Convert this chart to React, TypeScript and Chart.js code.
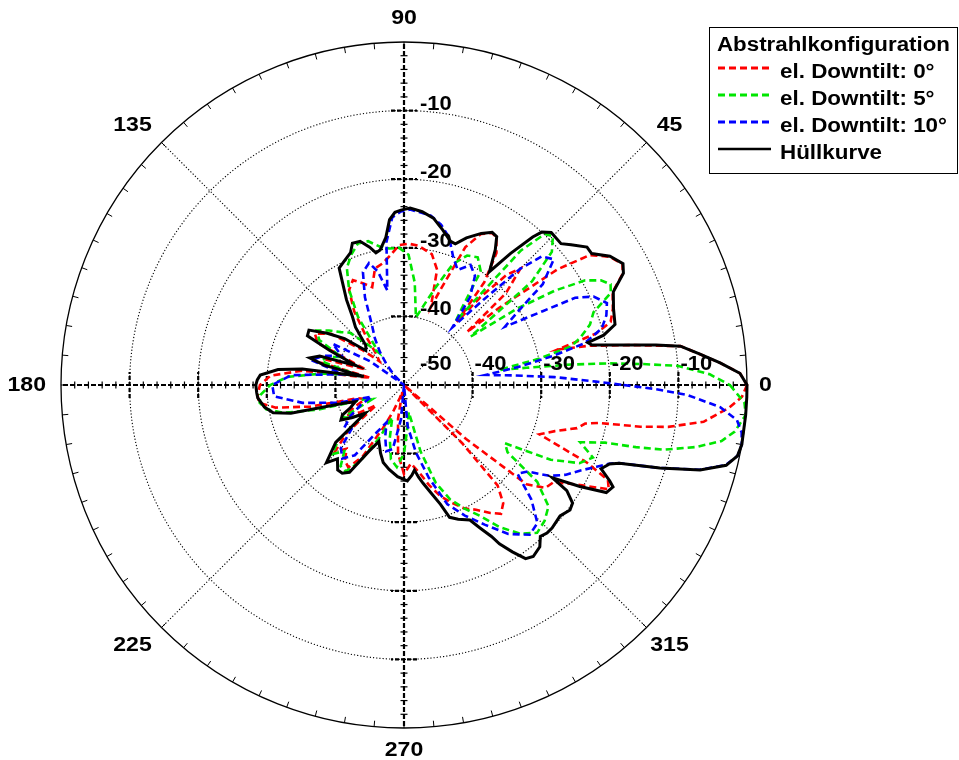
import React, { useEffect, useRef } from 'react';
import { Chart, registerables } from 'chart.js';

Chart.register(...registerables);

const LEGEND_TITLE = 'Abstrahlkonfiguration';
const SERIES_NAMES = ['el. Downtilt: 0°', 'el. Downtilt: 5°', 'el. Downtilt: 10°', 'Hüllkurve'];
const SERIES_COLORS = ['#ff0000', '#00e600', '#0000ff', '#000000'];
const ANGLE_TICKS = [0, 45, 90, 135, 180, 225, 270, 315];
const ANGLE_TICK_LABELS = ['0', '45', '90', '135', '180', '225', '270', '315'];
const RADIAL_TICKS = [-50, -40, -30, -20, -10];
const RADIAL_TICK_LABELS = ['-50', '-40', '-30', '-20', '-10'];

// Envelope (Hüllkurve): angle in degrees (counter-clockwise from 0), level in dB
const envAngles = [0, 2, 4, 6, 8, 9, 10, 11, 12, 13, 14, 16, 20, 24, 27, 29, 32, 35, 37, 40, 42, 46, 48, 49, 51, 53, 56, 58, 60, 63, 67, 70, 72, 76, 80, 84, 88, 91, 93, 95, 97, 100, 102, 104, 107, 110, 112, 116, 119, 121, 124, 127, 130, 134, 138, 142, 146, 150, 153, 155, 158, 161, 164, 166, 168, 171, 173, 176, 178, 180, 183, 185, 189, 192, 194, 197, 199, 203, 206, 209, 212, 216, 220, 225, 228, 232, 235, 238, 242, 246, 251, 255, 260, 266, 272, 275, 277, 279, 281, 284, 287, 289, 292, 296, 298, 300, 301, 303, 305, 307, 310, 312, 314, 316, 320, 323, 325, 327, 328, 330, 332, 334, 335, 337, 339, 340, 342, 344, 346, 348, 350, 355, 358];
const envValues = [0, -1, -3.8, -6.7, -9.3, -12.8, -16.5, -19.4, -22, -22.5, -20, -18, -17.5, -16.6, -14.1, -13.5, -14.6, -16.6, -16.6, -18.2, -19.2, -19.1, -20, -21.4, -25.3, -29.3, -26.2, -24.5, -24.3, -25.2, -26.7, -28.1, -28, -26.7, -25.3, -24.6, -24.2, -24.5, -24.8, -25.8, -28.3, -30, -30.3, -29.3, -28.1, -28, -29.2, -30, -30.5, -32.6, -35, -37.5, -39, -42, -42.5, -39, -36.5, -34, -34.2, -38, -42.5, -37, -35.7, -38, -44, -35, -31.5, -29, -28.6, -28.4, -28.5, -28.6, -29.4, -30.5, -33, -41, -42.5, -41.5, -40, -39.5, -41, -43, -37, -34, -35.5, -34.3, -34.3, -35, -39, -41, -39.5, -38.3, -37.5, -36.6, -36, -36.8, -37.5, -36.4, -35.4, -33.8, -31.8, -29.6, -28.9, -28.1, -26.4, -24.5, -23, -21, -19.1, -18.7, -19.2, -20.3, -20, -20, -20.3, -19.7, -20, -21.7, -24.5, -20.4, -16.6, -16.1, -16.9, -18.8, -17.9, -16.6, -10.8, -5.1, -1.6, -0.3, 0, 0, 0];

// el. Downtilt 0°
const redAngles = [0, 2, 4, 6, 8, 10, 12, 13, 15, 17, 20, 24, 27, 29, 32, 35, 37, 39, 40, 42, 45, 47, 49, 50, 52, 55, 58, 60, 63, 66, 69, 71, 74, 78, 84, 88, 92, 96, 100, 104, 108, 112, 116, 120, 124, 128, 132, 136, 140, 145, 150, 154, 158, 162, 165, 168, 172, 176, 180, 184, 187, 190, 193, 196, 200, 204, 208, 212, 216, 220, 224, 228, 232, 236, 240, 244, 248, 252, 256, 260, 265, 270, 275, 280, 284, 288, 292, 296, 300, 304, 307, 310, 313, 315, 316, 318, 319, 321, 324, 327, 330, 333, 335, 337, 340, 343, 346, 348, 349, 350, 351, 353, 356, 358];
const redValues = [0, -1, -3.8, -6.7, -9.3, -16.5, -22.5, -27, -21, -18.5, -17.6, -16.7, -14.2, -13.6, -14.7, -17, -22, -32, -38, -30, -26, -28, -33, -38, -31, -26.5, -24.6, -24.4, -25.3, -28, -35, -38, -32.5, -30.5, -29.6, -29.4, -29.6, -31, -32, -32.5, -35, -34, -33, -34, -37, -41, -44, -45, -42, -37, -35, -36, -44, -38, -37.5, -45, -35, -30.5, -29, -28.6, -28.7, -31, -36, -43, -44, -42, -40.5, -42.5, -45, -39, -36, -37.5, -36, -35.5, -38, -43, -46, -48, -49, -45, -40, -37, -38.5, -37, -35, -33, -31.5, -30, -29, -27.5, -26.5, -27.5, -30, -38, -50, -50, -38, -27, -24.5, -24, -21, -16.5, -17.2, -21, -29, -27, -24, -23, -21, -15, -11, -6, -2.5, -0.7];

// el. Downtilt 5°
const greenAngles = [0, 2, 4, 5, 6, 7, 8, 9, 11, 13, 15, 18, 21, 24, 26, 28, 30, 32, 34, 36, 39, 42, 45, 47, 49, 51, 53, 56, 60, 64, 68, 72, 76, 80, 84, 88, 92, 96, 100, 104, 108, 112, 116, 120, 124, 128, 132, 136, 140, 144, 148, 152, 156, 160, 164, 168, 172, 176, 180, 184, 187, 190, 193, 196, 200, 204, 208, 212, 216, 220, 224, 228, 232, 236, 240, 245, 250, 255, 260, 265, 270, 275, 280, 284, 288, 292, 296, 300, 304, 308, 312, 316, 320, 324, 327, 330, 333, 336, 339, 342, 344, 345, 346, 348, 350, 352, 355, 357];
const greenValues = [-2.5, -5.4, -10, -15, -19.8, -25.5, -32, -36, -30, -25, -23.4, -21.5, -20.4, -17, -16.5, -17.5, -19.5, -24, -30, -38, -26, -21, -19.3, -19.9, -24, -38, -36, -30, -28.5, -29, -31, -35, -38, -40, -35, -31, -30, -30, -29.5, -28.4, -28.3, -29.5, -31, -34, -38, -44, -42, -39, -38, -36.5, -35, -36, -40, -38, -37.5, -43, -38, -33, -30.5, -29, -28.8, -29.6, -32, -37, -44, -45, -40, -41, -43, -37.5, -35.5, -37, -35, -34.8, -37, -41.5, -45, -42, -39, -38, -40, -44, -46, -40, -35, -32, -30, -28, -25, -22.5, -21, -21.5, -22.5, -26, -32, -33, -26, -22, -20.5, -23, -19.5, -15, -11, -6.5, -3, -1.3, 0, -0.3];

// el. Downtilt 10°
const blueAngles = [0, 1, 3, 5, 7, 9, 11, 13, 16, 19, 22, 25, 27, 28, 30, 33, 36, 40, 43, 45, 47, 50, 53, 57, 61, 65, 69, 73, 77, 81, 85, 88, 91, 94, 97, 100, 103, 106, 110, 114, 118, 122, 126, 130, 135, 140, 145, 150, 155, 160, 165, 170, 175, 180, 185, 190, 195, 200, 205, 210, 215, 220, 225, 230, 235, 240, 245, 250, 255, 260, 265, 269, 272, 275, 280, 285, 290, 295, 300, 305, 310, 314, 318, 322, 325, 328, 331, 334, 337, 339, 340, 342, 344, 346, 348, 350, 352, 354, 356, 358, 359];
const blueValues = [-18, -22, -28, -34, -38, -33, -28, -23, -20, -18.8, -18.1, -19.5, -22, -27, -33, -30, -25, -21.5, -22.5, -26, -33, -39, -34, -31, -30, -31.5, -30, -27.5, -26, -25, -24.7, -24.4, -24.7, -25.5, -29, -36, -33, -31.5, -32.5, -36, -40, -42, -44, -46, -48, -50, -44, -38, -40, -37.5, -36, -41, -33.5, -30.8, -31, -35, -40, -45, -43, -41, -39.5, -40, -37, -36, -37.5, -42, -44, -42, -40, -40.5, -45, -50, -50, -44, -40, -36, -31.5, -29, -26.5, -23.5, -21.5, -22, -25, -29, -28, -25, -23, -21.5, -19.5, -18, -16.7, -10.9, -5.2, -1.7, -0.3, 0, -0.3, -1.2, -3.8, -8.7, -13];

const R_MIN = -50;
const R_MAX = 0;
const N_SLOTS = 360;

function slotOf(angle: number): number {
  return (N_SLOTS - Math.round(angle)) % N_SLOTS;
}

function buildSeries(angles: number[], values: number[]): (number | null)[] {
  const arr: (number | null)[] = new Array(N_SLOTS).fill(null);
  angles.forEach((a, i) => {
    arr[slotOf(a)] = Math.max(R_MIN, values[i]);
  });
  return arr;
}

const FONT_FAMILY = '"Liberation Sans", Arial, Helvetica, sans-serif';

function drawText(ctx: CanvasRenderingContext2D, text: string, x: number, y: number, align: CanvasTextAlign, baseline: CanvasTextBaseline, size: number, stretch = 1.1) {
  ctx.save();
  ctx.translate(x, y);
  ctx.scale(stretch, 1);
  ctx.font = `bold ${size}px ${FONT_FAMILY}`;
  ctx.fillStyle = '#000';
  ctx.textAlign = align;
  ctx.textBaseline = baseline;
  ctx.fillText(text, 0, 0);
  ctx.restore();
}

const decorPlugin = {
  id: 'polarDecor',
  beforeDatasetsDraw(chart: any) {
    const scale = chart.scales.r;
    const ctx: CanvasRenderingContext2D = chart.ctx;
    const cx = scale.xCenter;
    const cy = scale.yCenter;
    const R = scale.drawingArea;
    ctx.save();
    // outer circle ticks every 5 degrees
    ctx.strokeStyle = '#000';
    ctx.lineWidth = 1;
    ctx.setLineDash([]);
    for (let a = 0; a < 360; a += 5) {
      const p1 = scale.getPointPosition(slotOf(a), R);
      const p2 = scale.getPointPosition(slotOf(a), R - 6);
      ctx.beginPath();
      ctx.moveTo(p1.x, p1.y);
      ctx.lineTo(p2.x, p2.y);
      ctx.stroke();
    }
    // main axes (0/90/180/270) dashed thick
    for (const a of [0, 90, 180, 270]) {
      const p = scale.getPointPosition(slotOf(a), R);
      ctx.strokeStyle = '#000';
      ctx.lineWidth = 2.2;
      ctx.setLineDash([5, 2]);
      ctx.beginPath();
      ctx.moveTo(cx, cy);
      ctx.lineTo(p.x, p.y);
      ctx.stroke();
      const ux = (p.x - cx) / R;
      const uy = (p.y - cy) / R;
      const nx = -uy;
      const ny = ux;
      // minor ticks every 2 dB
      ctx.setLineDash([]);
      ctx.lineWidth = 1.2;
      for (let v = R_MIN + 2; v < R_MAX; v += 2) {
        if ((v - R_MIN) % 10 === 0) continue;
        const d = scale.getDistanceFromCenterForValue(v);
        const x = cx + ux * d;
        const y = cy + uy * d;
        ctx.beginPath();
        ctx.moveTo(x - nx * 3.5, y - ny * 3.5);
        ctx.lineTo(x + nx * 3.5, y + ny * 3.5);
        ctx.stroke();
      }
      // major ticks
      ctx.lineWidth = 2.2;
      ctx.setLineDash([4, 2]);
      for (const v of RADIAL_TICKS) {
        if (v === R_MIN) continue;
        const d = scale.getDistanceFromCenterForValue(v);
        const x = cx + ux * d;
        const y = cy + uy * d;
        ctx.beginPath();
        ctx.moveTo(x - nx * 13, y - ny * 13);
        ctx.lineTo(x + nx * 13, y + ny * 13);
        ctx.stroke();
      }
    }
    ctx.restore();
  },
  afterDatasetsDraw(chart: any) {
    const scale = chart.scales.r;
    const ctx: CanvasRenderingContext2D = chart.ctx;
    const cx = scale.xCenter;
    const cy = scale.yCenter;
    const R = scale.drawingArea;
    // radial tick labels
    RADIAL_TICKS.forEach((v, i) => {
      const d = scale.getDistanceFromCenterForValue(v);
      const label = RADIAL_TICK_LABELS[i];
      if (v === R_MIN) {
        drawText(ctx, label, cx + 16, cy - 15, 'left', 'alphabetic', 20);
      } else {
        drawText(ctx, label, cx + 16, cy - d - 1, 'left', 'alphabetic', 20);
        drawText(ctx, label, cx + d + 2, cy - 15, 'left', 'alphabetic', 20);
      }
    });
    // angle labels
    ANGLE_TICKS.forEach((a, i) => {
      const label = ANGLE_TICK_LABELS[i];
      const slot = slotOf(a);
      const p = scale.getPointPosition(slot, R);
      if (a === 0) {
        drawText(ctx, label, p.x + 12, p.y, 'left', 'middle', 21);
      } else if (a === 180) {
        drawText(ctx, label, p.x - 15, p.y, 'right', 'middle', 21);
      } else if (a === 90) {
        drawText(ctx, label, p.x, p.y - 24, 'center', 'middle', 21);
      } else if (a === 270) {
        drawText(ctx, label, p.x, p.y + 22, 'center', 'middle', 21);
      } else {
        const right = p.x > cx;
        const below = p.y > cy;
        drawText(ctx, label, right ? p.x + 23 : p.x - 29, below ? p.y + 18 : p.y - 17, 'center', 'middle', 21);
      }
    });
    // legend box
    ctx.save();
    ctx.fillStyle = '#fff';
    ctx.fillRect(709.5, 27.5, 248, 146);
    ctx.strokeStyle = '#000';
    ctx.lineWidth = 1;
    ctx.setLineDash([]);
    ctx.strokeRect(709.5, 27.5, 248, 146);
    ctx.restore();
    drawText(ctx, LEGEND_TITLE, 717, 51, 'left', 'alphabetic', 20, 1.115);
    SERIES_NAMES.forEach((name, i) => {
      const y = 68 + 27 * i;
      ctx.save();
      ctx.strokeStyle = SERIES_COLORS[i];
      ctx.lineWidth = i === 3 ? 2.5 : 3;
      ctx.setLineDash(i === 3 ? [] : [7, 4]);
      ctx.beginPath();
      ctx.moveTo(718, y);
      ctx.lineTo(771, y);
      ctx.stroke();
      ctx.restore();
      drawText(ctx, name, 780, 78 + 27 * i, 'left', 'alphabetic', 20, 1.12);
    });
  },
};

export default function App() {
  const canvasRef = useRef<HTMLCanvasElement | null>(null);

  useEffect(() => {
    const canvas = canvasRef.current;
    if (!canvas) return;
    const labels = Array.from({ length: N_SLOTS }, (_, i) => String((N_SLOTS - i) % N_SLOTS));
    const seriesData = [
      buildSeries(envAngles, envValues),
      buildSeries(blueAngles, blueValues),
      buildSeries(greenAngles, greenValues),
      buildSeries(redAngles, redValues),
    ];
    const names = [SERIES_NAMES[3], SERIES_NAMES[2], SERIES_NAMES[1], SERIES_NAMES[0]];
    const colors = [SERIES_COLORS[3], SERIES_COLORS[2], SERIES_COLORS[1], SERIES_COLORS[0]];
    const datasets = seriesData.map((d, i) => ({
      label: names[i],
      data: d,
      borderColor: colors[i],
      backgroundColor: 'transparent',
      borderWidth: i === 0 ? 3 : 2.6,
      borderDash: i === 0 ? [] : [7, 4],
      fill: false,
      spanGaps: true,
      pointRadius: 0,
      tension: 0,
    }));

    const chart = new Chart(canvas, {
      type: 'radar',
      data: { labels, datasets },
      options: {
        animation: false,
        responsive: false,
        events: [],
        layout: { padding: { left: 61, right: 212, top: 42, bottom: 32 } },
        plugins: { legend: { display: false }, tooltip: { enabled: false } },
        elements: { point: { radius: 0 }, line: { tension: 0 } },
        scales: {
          r: {
            min: R_MIN,
            max: R_MAX,
            startAngle: 90,
            ticks: { display: false, stepSize: 10 },
            pointLabels: { display: false },
            grid: {
              circular: true,
              color: '#000',
              lineWidth: (c: any) => (c.tick && c.tick.value === R_MAX ? 1.3 : 1.1),
            },
            border: {
              dash: (c: any) => (c.tick && c.tick.value === R_MAX ? [] : [1.2, 2]),
            },
            angleLines: {
              display: true,
              color: '#000',
              lineWidth: (c: any) => {
                const a = (N_SLOTS - c.index) % N_SLOTS;
                return a % 45 === 0 && a % 90 !== 0 ? 1.1 : 0;
              },
              borderDash: [1.2, 2],
            },
          },
        },
      },
      plugins: [decorPlugin],
    } as any);

    return () => chart.destroy();
  }, []);

  return (
    <div style={{ position: 'absolute', left: 0, top: 0, width: 959, height: 760, background: '#fff' }}>
      <canvas ref={canvasRef} width={959} height={760} style={{ width: 959, height: 760, display: 'block' }} />
    </div>
  );
}
